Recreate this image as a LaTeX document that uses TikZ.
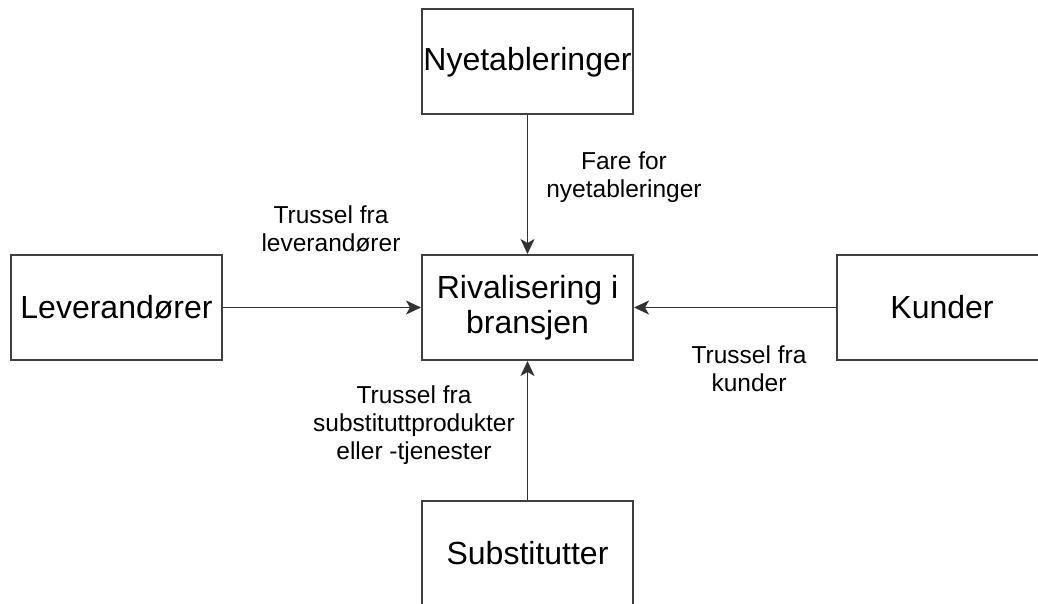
\documentclass[tikz,border=0pt]{standalone}
\usepackage{fontspec}
\setmainfont{Liberation Sans}
\usetikzlibrary{arrows.meta}
\begin{document}
\begin{tikzpicture}[x=1pt,y=-1pt,
  box/.style={draw=black!75, line width=2pt, fill=white, minimum width=211pt, minimum height=105pt, inner sep=0pt, align=center, font=\fontsize{32}{35}\selectfont},
  lbl/.style={align=center, font=\fontsize{24.5}{28}\selectfont, inner sep=0pt},
  conn/.style={draw=black!80, line width=1.8pt, -{Stealth[length=15pt,width=14pt,inset=4pt]}}]
\useasboundingbox (0,0) rectangle (1038,604);
\clip (0,0) rectangle (1038,604);
\fill[white] (0,0) rectangle (1038,604);
\node[box] (ny) at (527.5,62) {Nyetableringer};
\node[box] (riv) at (527.5,307.5) {Rivalisering i\\bransjen};
\node[box] (lev) at (116.5,307.5) {Leverandører};
\node[box] (kun) at (942,307.5) {Kunder};
\node[box] (sub) at (527.5,553.5) {Substitutter};
\draw[conn] (ny) -- (riv);
\draw[conn] (lev) -- (riv);
\draw[conn] (kun) -- (riv);
\draw[conn] (sub) -- (riv);
\node[lbl] (l1) at (624,177) {Fare for\\nyetableringer};
\node[lbl] (l2) at (331,229) {Trussel fra\\leverandører};
\node[lbl] (l3) at (749,369) {Trussel fra\\kunder};
\node[lbl] (l4) at (414,425) {Trussel fra\\substituttprodukter\\eller -tjenester};
\end{tikzpicture}
\end{document}
